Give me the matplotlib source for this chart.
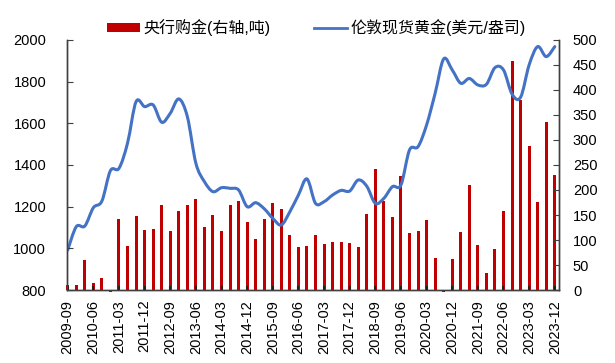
import numpy as np
import matplotlib
matplotlib.use('Agg')
import matplotlib.pyplot as plt
from matplotlib.path import Path
from matplotlib.patches import PathPatch, Patch
from matplotlib.lines import Line2D

plt.rcParams['font.family'] = ['Liberation Sans', 'Noto Sans CJK SC', 'DejaVu Sans']

# quarterly data, 2009-09 .. 2023-12
quarters = ['2009-09', '2009-12', '2010-03', '2010-06', '2010-09', '2010-12',
            '2011-03', '2011-06', '2011-09', '2011-12', '2012-03', '2012-06',
            '2012-09', '2012-12', '2013-03', '2013-06', '2013-09', '2013-12',
            '2014-03', '2014-06', '2014-09', '2014-12', '2015-03', '2015-06',
            '2015-09', '2015-12', '2016-03', '2016-06', '2016-09', '2016-12',
            '2017-03', '2017-06', '2017-09', '2017-12', '2018-03', '2018-06',
            '2018-09', '2018-12', '2019-03', '2019-06', '2019-09', '2019-12',
            '2020-03', '2020-06', '2020-09', '2020-12', '2021-03', '2021-06',
            '2021-09', '2021-12', '2022-03', '2022-06', '2022-09', '2022-12',
            '2023-03', '2023-06', '2023-09', '2023-12']

# central bank purchases, tonnes (right axis)
cb_buying = [11, 11, 61, 15, 25, -3, 143, 89, 149, 121, 123, 171,
             118, 158, 171, 181, 127, 151, 119, 170, 177, 136, 103, 142,
             173, 163, 111, 86, 89, 111, 93, 97, 97, 94, 86, 153,
             241, 177, 147, 228, 114, 119, 141, 65, -3, 62, 117, 210,
             91, 35, 83, 159, 457, 380, 287, 175, 336, 229]

# London spot gold, USD/oz (left axis)
gold_price = [992, 1104, 1107, 1195, 1227, 1373, 1384, 1505, 1704, 1680, 1688, 1605,
              1648, 1717, 1632, 1408, 1320, 1272, 1291, 1288, 1280, 1200, 1219, 1190,
              1144, 1112, 1176, 1256, 1333, 1216, 1224, 1256, 1278, 1275, 1328, 1298,
              1216, 1240, 1296, 1304, 1472, 1488, 1592, 1744, 1909, 1856, 1792, 1815,
              1784, 1787, 1867, 1856, 1740, 1725, 1880, 1968, 1920, 1968]

bar_color = '#C00000'
line_color = '#4472C4'
spine_color = '#404040'

fig = plt.figure(figsize=(6.15, 3.63), dpi=100)
ax = fig.add_axes([0.109, 0.201, 0.800, 0.689])   # gold price, left
ax2 = ax.twinx()                                   # bars, right

x = np.arange(len(quarters))
ax2.bar(x, cb_buying, width=0.35, color=bar_color, clip_on=False)

# smoothed line (bezier through the quarterly points, like excel's smoothing)
y = np.array(gold_price, dtype=float)
verts = [(x[0], y[0])]
codes = [Path.MOVETO]
n = len(x)
for i in range(n - 1):
    p0 = np.array([x[max(i - 1, 0)], y[max(i - 1, 0)]])
    p1 = np.array([x[i], y[i]])
    p2 = np.array([x[i + 1], y[i + 1]])
    p3 = np.array([x[min(i + 2, n - 1)], y[min(i + 2, n - 1)]])
    c1 = p1 + (p2 - p0) / 6
    c2 = p2 - (p3 - p1) / 6
    verts += [tuple(c1), tuple(c2), tuple(p2)]
    codes += [Path.CURVE4] * 3
ax.add_patch(PathPatch(Path(verts, codes), facecolor='none', edgecolor=line_color,
                       lw=2.2, capstyle='round', joinstyle='round'))

ax.set_zorder(ax2.get_zorder() + 1)
ax.patch.set_visible(False)

ax.set_xlim(-0.08, 57.5)
ax.set_ylim(800, 2000)
ax.set_yticks(np.arange(800, 2001, 200))
ax2.set_ylim(0, 500)
ax2.set_yticks(np.arange(0, 501, 50))

ax.set_xticks(x[::3])
ax.set_xticklabels(quarters[::3], rotation=90)

for a in (ax, ax2):
    a.spines['top'].set_visible(False)
    for s in ('left', 'right', 'bottom'):
        a.spines[s].set_color(spine_color)
        a.spines[s].set_linewidth(1)
ax.tick_params(axis='y', direction='in', length=4, color=spine_color, labelsize=10.5, pad=15)
ax.tick_params(axis='x', direction='in', length=3, color='#202020', width=1.5, labelsize=10.5, pad=7)
ax2.tick_params(axis='y', direction='in', length=4, color=spine_color, labelsize=10.5, pad=10)

handles = [Patch(facecolor=bar_color, edgecolor='none'),
           Line2D([], [], color=line_color, lw=2)]
fig.legend(handles, ['央行购金(右轴,吨)', '伦敦现货黄金(美元/盎司)'],
           loc='center', bbox_to_anchor=(0.514, 0.923), ncol=2, frameon=False,
           fontsize=11.5, handlelength=2.1, handleheight=0.52, columnspacing=2.7,
           handletextpad=0.2, borderaxespad=0, borderpad=0)

fig.savefig('out.png', dpi=100)
